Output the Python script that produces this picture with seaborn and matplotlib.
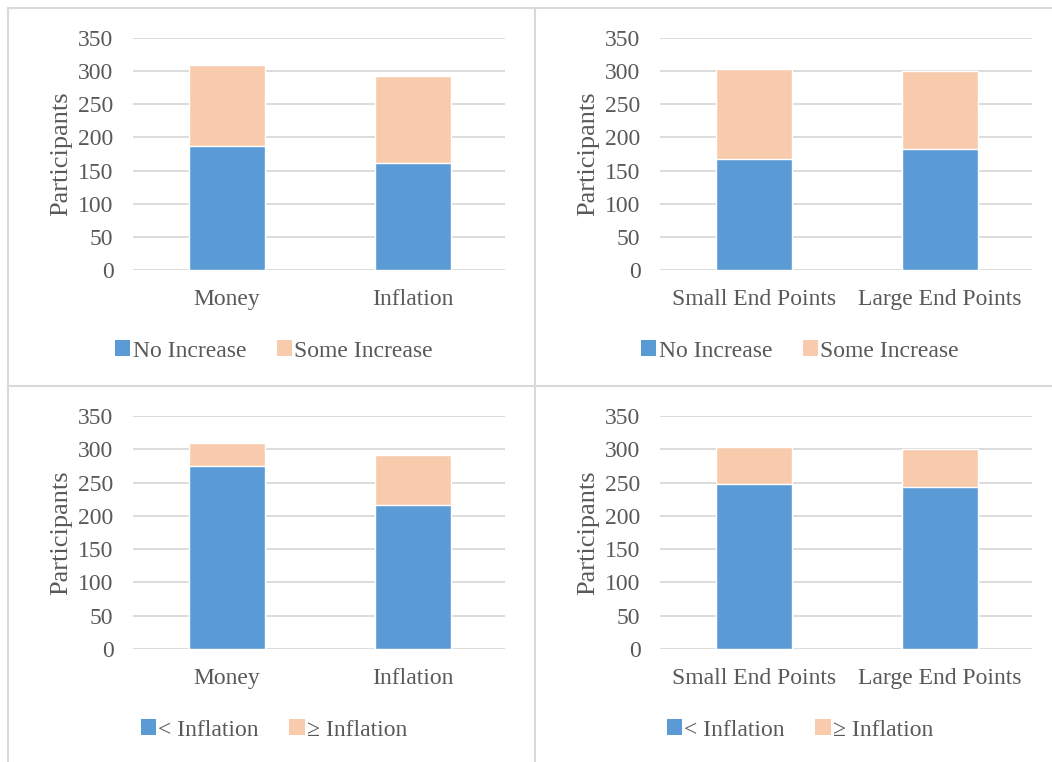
import numpy as np
import pandas as pd
import matplotlib
matplotlib.use("Agg")
import matplotlib.pyplot as plt
from matplotlib.patches import Patch
from matplotlib.lines import Line2D
import seaborn as sns

# ── data ──────────────────────────────────────────────────────────────────────
cats_left = ["Money", "Inflation"]
cats_right = ["Small End Points", "Large End Points"]

no_increase_left = [187, 162]
some_increase_left = [123, 130]
no_increase_right = [167, 182]
some_increase_right = [136, 118]

below_infl_left = [275, 216]
above_infl_left = [35, 76]
below_infl_right = [248, 244]
above_infl_right = [55, 56]

legend_top = ["No Increase", "Some Increase"]
legend_bottom = ["< Inflation", "\u2265 Inflation"]
yticks = [0, 50, 100, 150, 200, 250, 300, 350]

BLUE = "#5B9BD5"
PEACH = "#F8CBAD"
GRID = "#D9D9D9"
TEXT = "#595959"

sns.set_theme(style="white")
plt.rcParams["font.family"] = ["Liberation Serif", "DejaVu Serif"]
plt.rcParams["text.color"] = TEXT

W, H = 1052, 762
fig = plt.figure(figsize=(W / 100, H / 100), dpi=100)


def px_axes(left, top, right, bottom):
    return fig.add_axes([left / W, 1 - bottom / H, (right - left) / W, (bottom - top) / H])


def panel(ax, cats, base, top, labels, legend_x, legend_y):
    df = pd.DataFrame({"cat": cats, "base": base,
                       "total": np.array(base) + np.array(top)})
    sns.barplot(data=df, x="cat", y="total", color=PEACH, width=0.41,
                saturation=1, ax=ax, zorder=2)
    sns.barplot(data=df, x="cat", y="base", color=BLUE, width=0.41,
                saturation=1, ax=ax, zorder=3)
    ax.set_ylim(0, 350)
    ax.set_xlim(-0.505, 1.495)
    ax.set_yticks(yticks)
    ax.yaxis.grid(True, color=GRID, linewidth=1.3, zorder=0)
    ax.set_axisbelow(True)
    for s in ax.spines.values():
        s.set_visible(False)
    ax.tick_params(axis="both", length=0, labelsize=17, colors=TEXT)
    ax.tick_params(axis="y", pad=14)
    ax.tick_params(axis="x", pad=14)
    ax.set_xlabel("")
    ax.set_ylabel("Participants", fontsize=19, color=TEXT, labelpad=4)
    handles = [Patch(facecolor=BLUE, edgecolor="none"),
               Patch(facecolor=PEACH, edgecolor="none")]
    fig.legend(handles, labels, loc="center",
               bbox_to_anchor=(legend_x / W, 1 - legend_y / H),
               ncol=2, frameon=False, fontsize=17, handlelength=0.65,
               handleheight=0.65, handletextpad=0.1, columnspacing=1.3,
               labelcolor=TEXT)


ax1 = px_axes(133, 38, 505, 270)
panel(ax1, cats_left, no_increase_left, some_increase_left, legend_top, 274, 351)
ax2 = px_axes(660, 38, 1032, 270)
panel(ax2, cats_right, no_increase_right, some_increase_right, legend_top, 800, 351)
ax3 = px_axes(133, 416, 505, 649)
panel(ax3, cats_left, below_infl_left, above_infl_left, legend_bottom, 274, 730)
ax4 = px_axes(660, 416, 1032, 649)
panel(ax4, cats_right, below_infl_right, above_infl_right, legend_bottom, 800, 730)

# panel borders
for xs, ys in [((8, W), (8, 8)), ((8, 8), (8, H)), ((535, 535), (8, H)),
               ((8, W), (386, 386))]:
    fig.add_artist(Line2D([x / W for x in xs], [1 - y / H for y in ys],
                          color=GRID, linewidth=1.5, transform=fig.transFigure))

fig.savefig("out.png", dpi=100)
